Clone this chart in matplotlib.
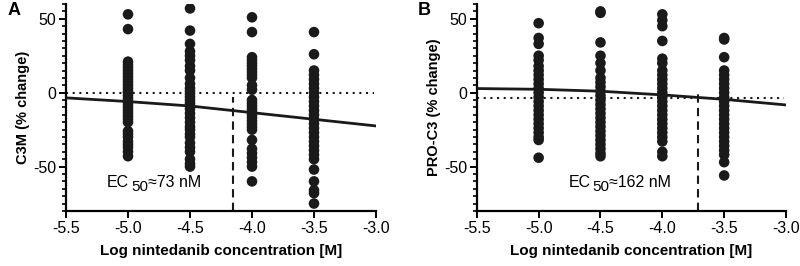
import matplotlib
matplotlib.use("Agg")
import matplotlib.pyplot as plt
from matplotlib.ticker import MultipleLocator
from matplotlib.transforms import offset_copy

plt.rcParams['font.family'] = ['Liberation Sans', 'DejaVu Sans']

doses = [-5.0, -4.5, -4.0, -3.5]

c3m_vals = [
    [53, 43, 21, 19, 17, 15, 13, 11, 9, 7, 5, 3, 1, 0, -2, -4, -6, -8, -10, -12,
     -14, -16, -18, -20, -26, -28, -30, -33, -35, -37, -40, -43],
    [57, 42, 33, 28, 25, 22, 18, 15, 10, 6, 3, 1, -1, -3, -5, -7, -9, -11, -14,
     -17, -20, -23, -25, -28, -30, -34, -37, -40, -45, -48, -50],
    [51, 41, 24, 22, 20, 18, 16, 14, 12, 10, 5, 2, -5, -7, -9, -11, -13, -15, -17,
     -19, -21, -23, -25, -32, -38, -41, -44, -47, -50, -60],
    [41, 26, 15, 12, 9, 6, 3, 0, -3, -6, -9, -12, -15, -18, -21, -24, -27, -30,
     -33, -36, -39, -42, -45, -52, -60, -66, -68, -75],
]

proc3_vals = [
    [47, 37, 33, 25, 22, 18, 15, 12, 9, 6, 3, 0, -3, -6, -9, -12, -15, -18, -21,
     -24, -27, -30, -32, -44],
    [55, 54, 34, 25, 20, 15, 10, 7, 4, 1, -2, -5, -8, -11, -14, -17, -20, -23,
     -26, -29, -32, -35, -38, -41, -43],
    [53, 49, 45, 35, 23, 20, 15, 12, 9, 6, 3, 0, -3, -6, -9, -12, -15, -18, -21,
     -24, -27, -30, -33, -40, -43],
    [37, 36, 24, 15, 12, 9, 6, 3, 0, -3, -6, -9, -12, -15, -18, -21, -24, -27,
     -30, -33, -36, -39, -42, -47, -56],
]

curve_x = [-5.5, -5.0, -4.5, -4.0, -3.5, -3.0]
c3m_curve = [-3.5, -6, -9, -13.5, -18, -22.5]
proc3_curve = [2.8, 2.3, 1.0, -1.5, -4.5, -8.3]

c3m_baseline = 0
proc3_baseline = -3.8
c3m_ec50_x = -4.15
proc3_ec50_x = -3.71

fig = plt.figure(figsize=(8, 2.66), dpi=100)
axA = fig.add_axes([0.0825, 0.207, 0.3875, 0.778])
axB = fig.add_axes([0.596, 0.207, 0.3865, 0.778])

def style(ax, ylabel):
    ax.set_xlim(-5.5, -3.0)
    ax.set_ylim(-80, 60)
    for s in ['top', 'right']:
        ax.spines[s].set_visible(False)
    for s in ['left', 'bottom']:
        ax.spines[s].set_linewidth(1.6)
    ax.set_xticks([-5.5, -5.0, -4.5, -4.0, -3.5, -3.0])
    ax.set_xticklabels(['-5.5', '-5.0', '-4.5', '-4.0', '-3.5', '-3.0'])
    ax.set_yticks([50, 0, -50])
    ax.set_yticklabels(['50', '0', '-50'])
    ax.yaxis.set_minor_locator(MultipleLocator(5))
    ax.tick_params(axis='both', which='major', length=5, width=1.4,
                   labelsize=11.5, pad=2)
    ax.tick_params(axis='y', which='minor', length=3, width=1.2)
    ax.set_xlabel('Log nintedanib concentration [M]', fontsize=11,
                  fontweight='bold', labelpad=6)
    ax.set_ylabel(ylabel, fontsize=10.5, fontweight='bold', labelpad=2)

def ec_text(ax, x, rest):
    t1 = ax.text(x, -64, 'EC', fontsize=11.5, ha='left', va='baseline')
    fig.canvas.draw()
    r = fig.canvas.get_renderer()
    bb = t1.get_window_extent(r)
    tr = offset_copy(ax.transData, fig=fig, x=(bb.width + 2) * 72 / fig.dpi,
                     y=-3, units='points')
    t2 = ax.text(x, -64, '50', fontsize=11, ha='left', va='baseline',
                 transform=tr)
    bb2 = t2.get_window_extent(r)
    tr2 = offset_copy(ax.transData, fig=fig,
                      x=(bb.width + 2 + bb2.width) * 72 / fig.dpi,
                      y=0, units='points')
    ax.text(x, -64, rest, fontsize=11.5, ha='left', va='baseline',
            transform=tr2)

def draw(ax, vals, curve, base, ec_x, ec_top, label, rest, txt_x):
    for d, v in zip(doses, vals):
        ax.scatter([d] * len(v), v, s=58, color='#1a1a1a', edgecolors='none',
                   zorder=3)
    ax.plot(curve_x, curve, color='#1a1a1a', lw=2.0, zorder=4)
    ax.plot([-5.5, -3.02], [base, base], color='#1a1a1a', lw=1.5,
            linestyle=(0, (1, 2.2)), zorder=2)
    ax.plot([ec_x, ec_x], [-80, ec_top], color='#1a1a1a', lw=1.5,
            linestyle=(0, (4, 2.5)), zorder=2)
    ec_text(ax, txt_x, rest)
    ax.text(-0.19, 1.01, label, transform=ax.transAxes, fontsize=13,
            fontweight='bold', ha='left', va='top')

style(axA, 'C3M (% change)')
style(axB, 'PRO-C3 (% change)')
draw(axA, c3m_vals, c3m_curve, c3m_baseline, c3m_ec50_x, -3, 'A',
     '≈73 nM', -5.17)
draw(axB, proc3_vals, proc3_curve, proc3_baseline, proc3_ec50_x, 1.5, 'B',
     '≈162 nM', -4.76)

fig.savefig('out.png', dpi=100)
